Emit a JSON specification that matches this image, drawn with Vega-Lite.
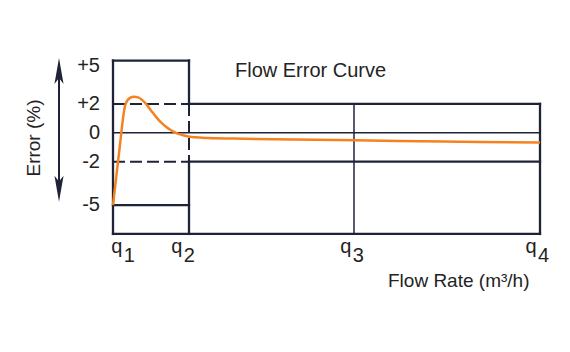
{
  "$schema": "https://vega.github.io/schema/vega-lite/v6.json",
  "width": 570,
  "height": 352,
  "autosize": {"type": "none"},
  "padding": 0,
  "background": "white",
  "config": {
    "view": {"stroke": null},
    "text": {"font": "Liberation Sans", "fontSize": 20, "color": "#232323"}
  },
  "datasets": {
    "thick": [
      {"x": 0, "y": 5, "x2": 0, "y2": -7},
      {"x": 0, "y": 5, "x2": 76, "y2": 5},
      {"x": 76, "y": 5, "x2": 76, "y2": 2},
      {"x": 76, "y": -2, "x2": 76, "y2": -7},
      {"x": 0, "y": -7, "x2": 427, "y2": -7},
      {"x": 0, "y": -5, "x2": 76, "y2": -5},
      {"x": 76, "y": 2, "x2": 427, "y2": 2},
      {"x": 76, "y": -2, "x2": 427, "y2": -2},
      {"x": 427, "y": 2, "x2": 427, "y2": -7}
    ],
    "thin": [
      {"x": 0, "y": 0, "x2": 427, "y2": 0},
      {"x": 241, "y": 2, "x2": 241, "y2": -7}
    ],
    "dashed": [
      {"x": 0, "y": 2, "x2": 76, "y2": 2},
      {"x": 0, "y": -2, "x2": 76, "y2": -2},
      {"x": 76, "y": 2, "x2": 76, "y2": -2}
    ],
    "curve": [
      {"x": 0, "y": -5},
      {"x": 2.5, "y": -3.5},
      {"x": 5, "y": -2.0},
      {"x": 7.5, "y": -0.5},
      {"x": 10, "y": 1.0},
      {"x": 12, "y": 1.85},
      {"x": 14, "y": 2.2},
      {"x": 17, "y": 2.42},
      {"x": 21, "y": 2.5},
      {"x": 25, "y": 2.45},
      {"x": 29, "y": 2.28},
      {"x": 33, "y": 2.0},
      {"x": 38, "y": 1.55},
      {"x": 43, "y": 1.1},
      {"x": 48, "y": 0.72},
      {"x": 53, "y": 0.42},
      {"x": 58, "y": 0.18},
      {"x": 63, "y": 0.0},
      {"x": 68, "y": -0.13},
      {"x": 74, "y": -0.24},
      {"x": 82, "y": -0.31},
      {"x": 95, "y": -0.36},
      {"x": 120, "y": -0.4},
      {"x": 160, "y": -0.45},
      {"x": 242, "y": -0.52},
      {"x": 330, "y": -0.6},
      {"x": 427, "y": -0.68}
    ],
    "arrowline": [{"x": -54, "y": 4.28, "x2": -54, "y2": -3.87}],
    "arrowup": [{"x": -54, "y": 4.28}],
    "arrowdown": [{"x": -54, "y": -3.87}],
    "ylabels": [
      {"x": -13, "y": 4.6, "t": "+5"},
      {"x": -13, "y": 2, "t": "+2"},
      {"x": -13, "y": 0, "t": "0"},
      {"x": -13, "y": -2, "t": "-2"},
      {"x": -13, "y": -5, "t": "-5"}
    ],
    "qlabels": [
      {"x": 3.7, "y": -8.32, "n": "1"},
      {"x": 63.7, "y": -8.32, "n": "2"},
      {"x": 232.8, "y": -8.32, "n": "3"},
      {"x": 418, "y": -8.32, "n": "4"}
    ],
    "title": [{"x": 122, "y": 3.88, "t": "Flow Error Curve"}],
    "xtitle": [{"x": 275, "y": -10.65, "t": "Flow Rate (m³/h)"}],
    "ytitle": [{"x": -79, "y": -0.36, "t": "Error (%)"}]
  },
  "encoding": {
    "x": {"field": "x", "type": "quantitative", "scale": {"domain": [-113, 457], "nice": false, "zero": false}, "axis": null},
    "y": {"field": "y", "type": "quantitative", "scale": {"domain": [-15.17, 9.19], "nice": false, "zero": false}, "axis": null}
  },
  "layer": [
    {
      "data": {"name": "thin"},
      "mark": {"type": "rule", "color": "#1f2338", "strokeWidth": 1.5},
      "encoding": {"x2": {"field": "x2"}, "y2": {"field": "y2"}}
    },
    {
      "data": {"name": "dashed"},
      "mark": {"type": "rule", "color": "#1f2338", "strokeWidth": 2, "strokeDash": [12, 5]},
      "encoding": {"x2": {"field": "x2"}, "y2": {"field": "y2"}}
    },
    {
      "data": {"name": "thick"},
      "mark": {"type": "rule", "color": "#1f2338", "strokeWidth": 2.3, "strokeCap": "square"},
      "encoding": {"x2": {"field": "x2"}, "y2": {"field": "y2"}}
    },
    {
      "data": {"name": "curve"},
      "mark": {"type": "line", "color": "#f58220", "strokeWidth": 2.5, "interpolate": "monotone"},
      "encoding": {}
    },
    {
      "data": {"name": "arrowline"},
      "mark": {"type": "rule", "color": "#1f2338", "strokeWidth": 2},
      "encoding": {"x2": {"field": "x2"}, "y2": {"field": "y2"}}
    },
    {
      "data": {"name": "arrowup"},
      "mark": {"type": "point", "filled": true, "color": "#1f2338", "opacity": 1, "size": 676, "strokeWidth": 0, "shape": "M0,-1L0.35,1L0,0.55L-0.35,1Z"},
      "encoding": {}
    },
    {
      "data": {"name": "arrowdown"},
      "mark": {"type": "point", "filled": true, "color": "#1f2338", "opacity": 1, "size": 676, "strokeWidth": 0, "shape": "M0,1L0.35,-1L0,-0.55L-0.35,-1Z"},
      "encoding": {}
    },
    {
      "data": {"name": "ylabels"},
      "mark": {"type": "text", "align": "right", "baseline": "middle"},
      "encoding": {"text": {"field": "t"}}
    },
    {
      "data": {"name": "qlabels"},
      "mark": {"type": "text", "align": "center", "baseline": "alphabetic", "text": "q"},
      "encoding": {}
    },
    {
      "data": {"name": "qlabels"},
      "mark": {"type": "text", "align": "center", "baseline": "alphabetic", "dx": 12.5, "dy": 9},
      "encoding": {"text": {"field": "n"}}
    },
    {
      "data": {"name": "title"},
      "mark": {"type": "text", "align": "left", "baseline": "alphabetic"},
      "encoding": {"text": {"field": "t"}}
    },
    {
      "data": {"name": "xtitle"},
      "mark": {"type": "text", "align": "left", "baseline": "alphabetic", "fontSize": 19},
      "encoding": {"text": {"field": "t"}}
    },
    {
      "data": {"name": "ytitle"},
      "mark": {"type": "text", "align": "center", "baseline": "middle", "angle": 270, "fontSize": 19},
      "encoding": {"text": {"field": "t"}}
    }
  ]
}
